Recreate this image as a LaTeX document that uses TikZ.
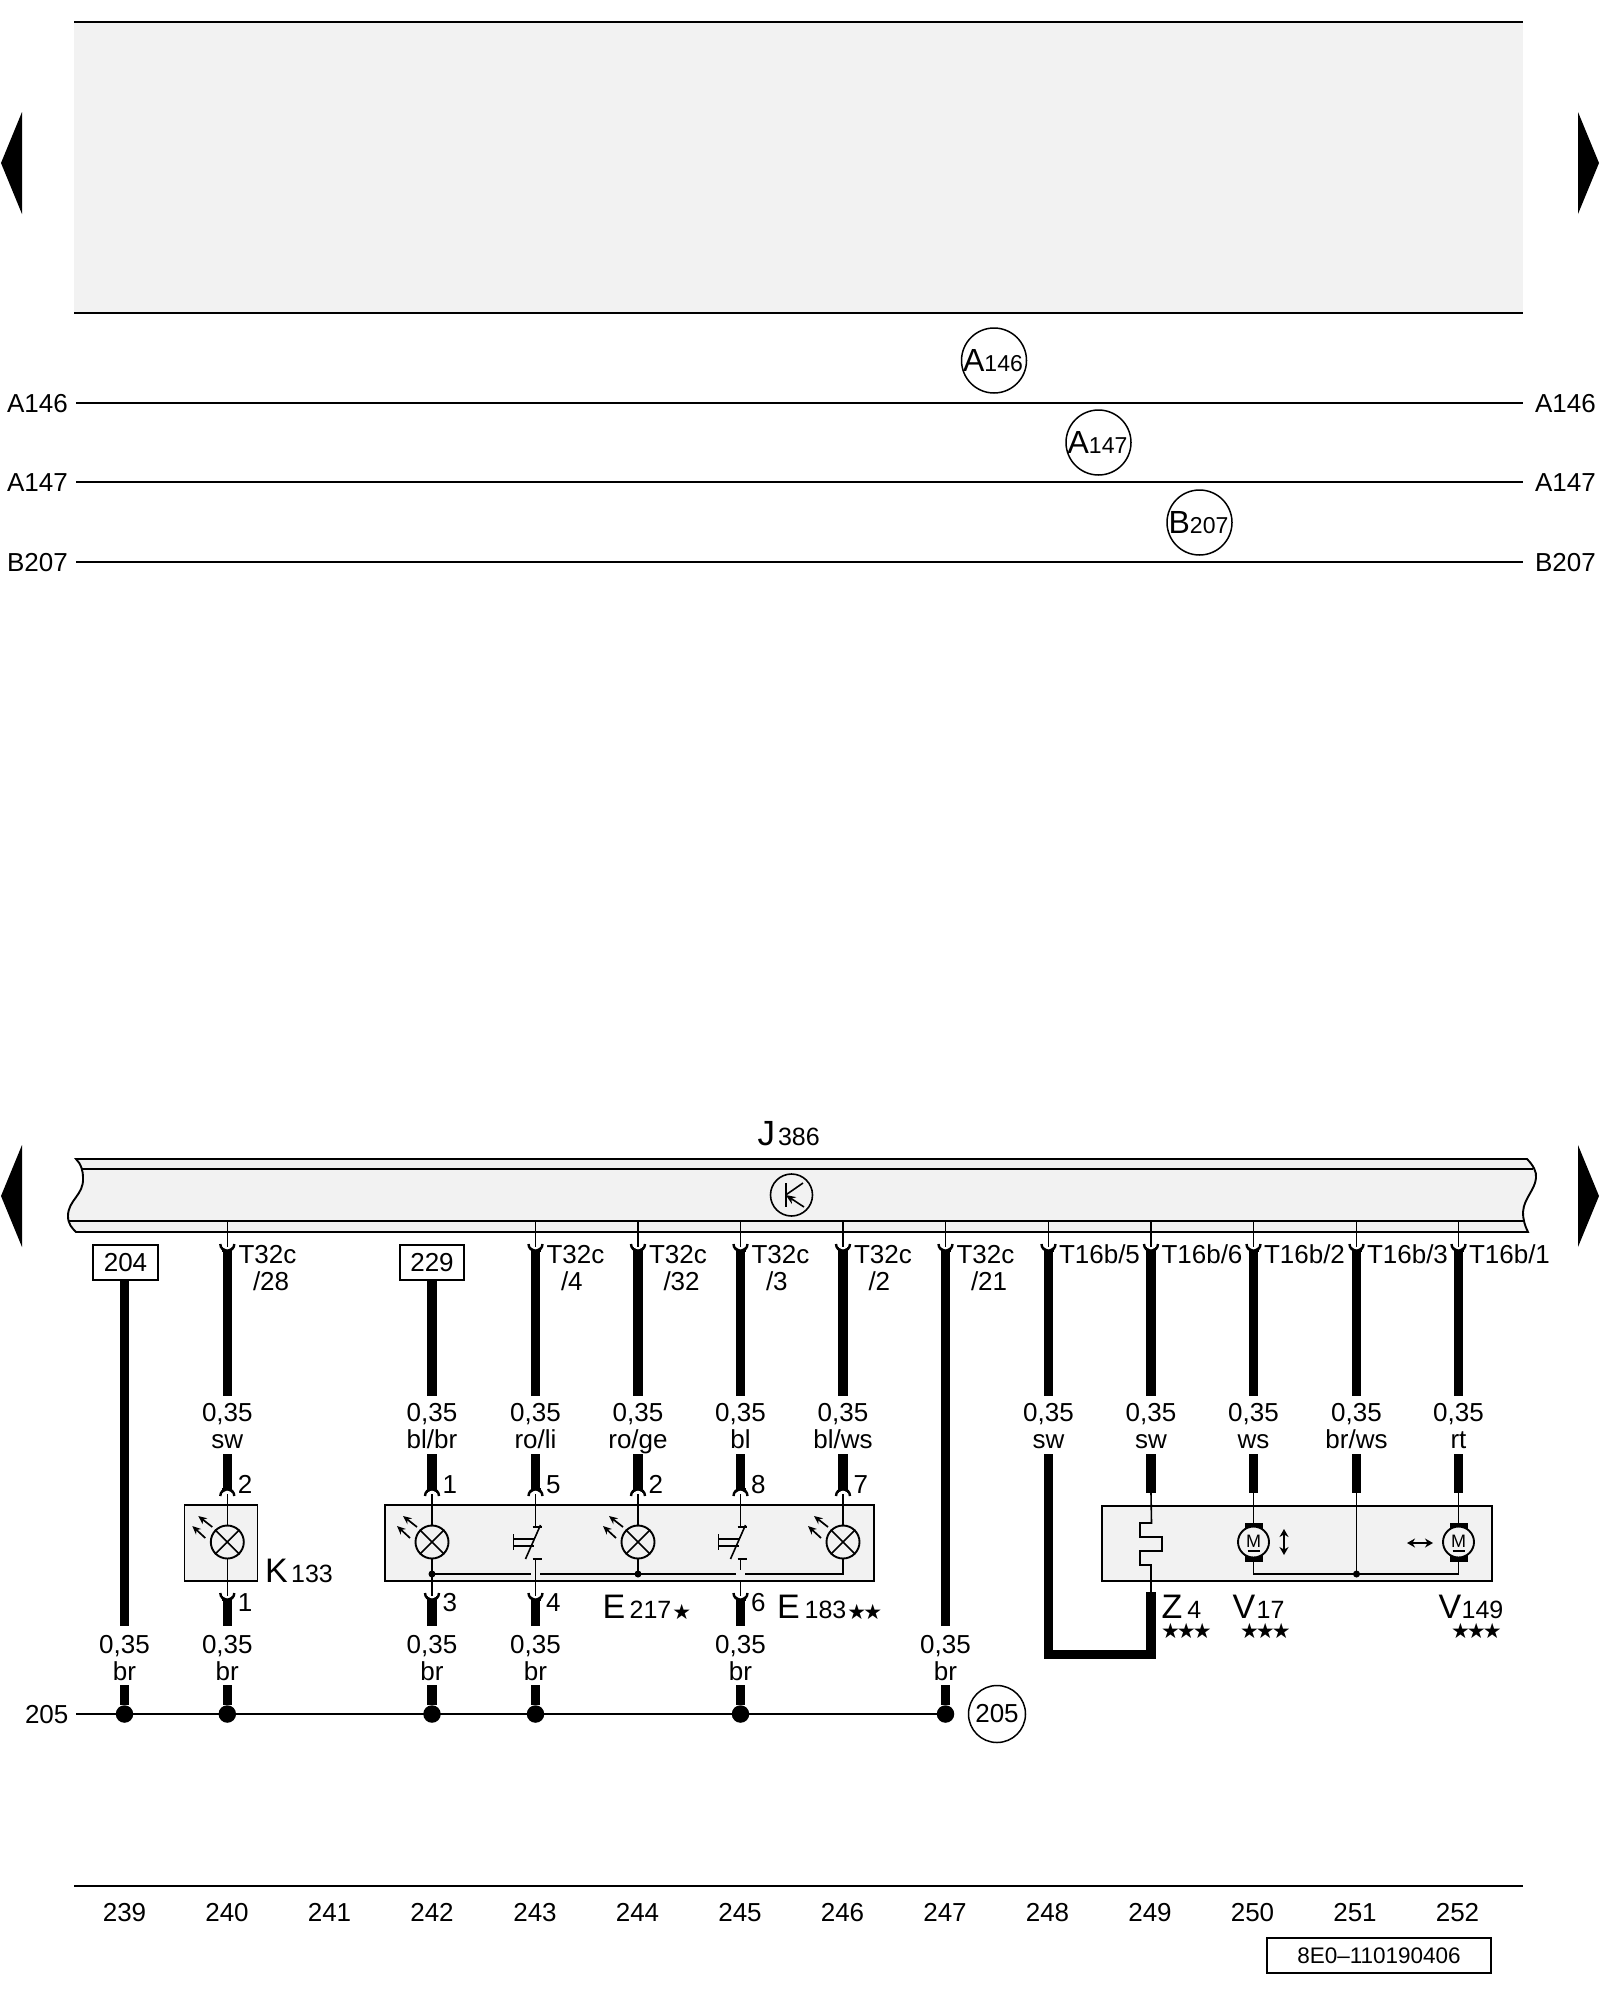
\documentclass[tikz,border=0pt]{standalone}
\usepackage{fontspec}
\setmainfont{Liberation Sans}
\newfontfamily\starfont{DejaVu Sans}
\usetikzlibrary{arrows.meta}
\definecolor{boxgray}{HTML}{F2F2F2}
\newcommand{\fs}[1]{\fontsize{#1}{#1}\selectfont}
\newcommand{\bigsub}[5]{{\fs{#1}#2}\kern#3pt{\fs{#4}#5}}
\newcommand{\stars}[1]{{\starfont\fs{21}#1}}
\newcommand{\sk}{\kern-2.9pt}
\tikzset{
  thinw/.style={line width=1.6pt,black},
  wire/.style={line width=9.5pt,black,line cap=butt},
  rail/.style={line width=1.7pt,black},
  panel/.style={draw,line width=1.9pt,black,fill=boxgray},
  txt/.style={inner sep=0pt,outer sep=0pt,anchor=base west,font=\fs{26}},
  ctxt/.style={inner sep=0pt,outer sep=0pt,anchor=base,font=\fs{26}},
  refcircle/.style={circle,draw,line width=1.5pt,minimum size=65pt,inner sep=0pt,fill=white,font=\fs{26}},
  lampsym/.style={circle,draw,line width=1.9pt,fill=boxgray,minimum size=33pt,inner sep=0pt},
  motorsym/.style={circle,draw,line width=1.9pt,fill=boxgray,minimum size=31pt,inner sep=0pt},
  ray/.style={line width=1.7pt,-{Stealth[length=8.5pt,width=7.5pt]}},
  dbl/.style={line width=1.6pt,{Stealth[length=8pt,width=9pt]}-{Stealth[length=8pt,width=9pt]}},
  solder/.style={circle,fill=black,inner sep=0pt,minimum size=#1},
  tagbox/.style={draw,line width=1.9pt,fill=white,inner sep=0pt,font=\fs{26}}
}
% connector cups: horns up (wire below) and horns down (wire above)
\newcommand{\cupdn}[2]{%
  \fill[black] (#1-5,#2+2) -- (#1+5,#2+2) -- (#1+5,#2+7) -- (#1-5,#2+7) -- cycle;
  \fill[white] (#1,#2-1) circle (5.5pt);
  \draw[line width=2.4pt] (#1-7,#2-1) arc[start angle=180,end angle=360,radius=7pt];}
\newcommand{\cupup}[2]{%
  \fill[black] (#1-5,#2-2) -- (#1+5,#2-2) -- (#1+5,#2-7) -- (#1-5,#2-7) -- cycle;
  \fill[white] (#1,#2+1) circle (5.5pt);
  \draw[line width=2.4pt] (#1-7,#2+1) arc[start angle=180,end angle=0,radius=7pt];}
\newcommand{\lamp}[2]{%
  \node[lampsym] (#1) at (#2,1542) {};
  \draw[thinw] (#1.45) -- (#1.225) (#1.135) -- (#1.315);
  \coordinate (#1r1) at (#2-15,1527); \coordinate (#1t1) at (#2-29,1516);
  \coordinate (#1r2) at (#2-22,1538); \coordinate (#1t2) at (#2-35,1526);
  \draw[ray] (#1r1) -- (#1t1);
  \draw[ray] (#1r2) -- (#1t2);}
\newcommand{\switchsym}[1]{%
  \draw[thinw] (#1-3,1527) -- (#1+6,1527);
  \draw[thinw] (#1+5,1525) -- (#1-10,1559);
  \draw[thinw] (#1-3,1559) -- (#1+6,1559);
  \draw[thinw] (#1-2,1539) -- (#1-22,1539) (#1-2,1546) -- (#1-22,1546);
  \draw[thinw] (#1-22,1534) -- (#1-22,1550);}
\newcommand{\motor}[2]{%
  \fill[black] (#2-9,1523) rectangle (#2+9,1532);
  \fill[black] (#2-9,1553) rectangle (#2+9,1562);
  \node[motorsym] (#1) at (#2,1542) {};
  \node[inner sep=0pt,font=\fs{18}] (#1m) at (#2,1541) {M};
  \draw[line width=1.4pt] (#2-6,1551) -- (#2+6,1551);}
\newcommand{\gauge}[4]{% name, x, baseline of first line, colour
  \node[ctxt] (#1a) at (#2,#3) {0,35};
  \node[ctxt] (#1b) at (#2,#3+26.5) {#4};}
\begin{document}
\begin{tikzpicture}[x=1pt,y=-1pt]
\useasboundingbox (0,0) rectangle (1600,2000);
\fill[white] (0,0) rectangle (1600,2000);

% page arrows
\fill[black] (22,112) -- (1,163) -- (22,214) -- cycle;
\fill[black] (1578,112) -- (1599,163) -- (1578,214) -- cycle;
\fill[black] (22,1145) -- (1,1196) -- (22,1247) -- cycle;
\fill[black] (1578,1145) -- (1599,1196) -- (1578,1247) -- cycle;

% top panel
\fill[boxgray] (74,22) rectangle (1523,313);
\coordinate (pl1) at (74,22); \coordinate (pr1) at (1523,22);
\coordinate (pl2) at (74,313); \coordinate (pr2) at (1523,313);
\draw[rail] (pl1) -- (pr1);
\draw[rail] (pl2) -- (pr2);

% potential lines
\foreach \t/\y in {A146/403,A147/482,B207/562}{
  \node[txt] (ll\t) at (7,\y+9) {\t};
  \node[txt] (lr\t) at (1535,\y+9) {\t};
  \coordinate (ra\t) at (76,\y);
  \coordinate (rb\t) at (1523,\y);
  \draw[rail] (ra\t) -- (rb\t);
}
\node[refcircle] (cA146) at (994,360.5) {\kern-2pt\bigsub{32}{A}{0}{23}{146}};
\node[refcircle] (cA147) at (1098.5,442.5) {\kern-2pt\bigsub{32}{A}{0}{23}{147}};
\node[refcircle] (cB207) at (1199.5,522.5) {\kern-2pt\bigsub{32}{B}{0}{23}{207}};

% J386 bar
\node[txt,anchor=base west] (J386) at (757.5,1145) {\bigsub{35}{J}{3}{25}{386}};
\path[panel] (76,1159) -- (1527,1159)
  .. controls (1533,1165) and (1537,1172) .. (1536,1178)
  .. controls (1535,1190) and (1524,1198) .. (1523,1212)
  .. controls (1523,1220) and (1525,1226) .. (1528,1232)
  -- (76,1232)
  .. controls (72,1228) and (68,1224) .. (68,1216)
  .. controls (68,1200) and (84,1195) .. (83,1178)
  .. controls (83,1170) and (81,1164) .. (76,1159) -- cycle;
\coordinate (i1l) at (82,1169); \coordinate (i1r) at (1533,1169);
\coordinate (i2l) at (68,1221); \coordinate (i2r) at (1524,1221);
\draw[rail] (i1l) -- (i1r);
\draw[rail] (i2l) -- (i2r);
\node[circle,draw,line width=1.6pt,minimum size=42pt,inner sep=0pt,fill=boxgray] (tr) at (791.5,1195) {};
\coordinate (trb1) at (785.7,1183); \coordinate (trb2) at (785.7,1207);
\coordinate (trm) at (785.7,1195); \coordinate (tru) at (803,1183); \coordinate (trd) at (804,1207);
\draw[thinw] (trb1) -- (trb2);
\draw[thinw] (trm) -- (tru);
\draw[line width=1.6pt,-{Stealth[length=10pt,width=8pt]}] (trd) -- (trm);

% numbered tag boxes
\node[tagbox,minimum width=65pt,minimum height=35pt] (b204) at (125.5,1262.5) {204};
\node[tagbox,minimum width=64pt,minimum height=35pt] (b229) at (432,1262.5) {229};

% device boxes
\fill[boxgray] (184.5,1505) rectangle (257.5,1581);
\draw[line width=1.9pt] (184.5,1505) rectangle (257.5,1581);
\fill[boxgray] (385,1505) rectangle (874,1581);
\draw[line width=1.9pt] (385,1505) rectangle (874,1581);
\fill[boxgray] (1102,1506) rectangle (1492,1581);
\draw[line width=1.9pt] (1102,1506) rectangle (1492,1581);

% connectors from J386
\foreach \n/\x in {c240/227.3,c243/535.5,c244/638,c245/740.5,c246/843,c247/945.5,c248/1048.5,c249/1151,c250/1253.5,c251/1356.5,c252/1458.5}{
  \cupdn{\x}{1245}
  \coordinate (\n top) at (\x,1221);
  \coordinate (\n cup) at (\x,1247);
  \draw[thinw] (\n top) -- (\n cup);
}
% upper thick wires
\foreach \n/\x in {c240/227.3,c243/535.5,c244/638,c245/740.5,c246/843,c248/1048.5,c249/1151,c250/1253.5,c251/1356.5,c252/1458.5}{
  \coordinate (\n a) at (\x,1251);
  \coordinate (\n b) at (\x,1396);
  \draw[wire] (\n a) -- (\n b);
}
\coordinate (c247a) at (945.5,1251); \coordinate (c247b) at (945.5,1626);
\draw[wire] (c247a) -- (c247b);
\coordinate (c239b) at (124.5,1626); \draw[wire] (b204.south -| c239b) -- (c239b);
\coordinate (c242b) at (432,1396); \draw[wire] (b229.south) -- (c242b);

% pin labels
\node[txt] (t240) at (238.5,1263) {T32c};  \node[txt] (p240) at (253,1290) {/28};
\node[txt] (t243) at (546.5,1263) {T32c};  \node[txt] (p243) at (561,1290) {/4};
\node[txt] (t244) at (649,1263) {T32c};    \node[txt] (p244) at (663.5,1290) {/32};
\node[txt] (t245) at (751.5,1263) {T32c};  \node[txt] (p245) at (766,1290) {/3};
\node[txt] (t246) at (854,1263) {T32c};    \node[txt] (p246) at (868.5,1290) {/2};
\node[txt] (t247) at (956.5,1263) {T32c};  \node[txt] (p247) at (971,1290) {/21};
\node[txt] (t248) at (1059,1263) {T16b/5};
\node[txt] (t249) at (1161.5,1263) {T16b/6};
\node[txt] (t250) at (1264,1263) {T16b/2};
\node[txt] (t251) at (1367,1263) {T16b/3};
\node[txt] (t252) at (1469,1263) {T16b/1};

% upper gauges
\gauge{g240}{227.3}{1421.5}{sw}
\gauge{g242}{432}{1421.5}{bl/br}
\gauge{g243}{535.5}{1421.5}{ro/li}
\gauge{g244}{638}{1421.5}{ro/ge}
\gauge{g245}{740.5}{1421.5}{bl}
\gauge{g246}{843}{1421.5}{bl/ws}
\gauge{g248}{1048.5}{1421.5}{sw}
\gauge{g249}{1151}{1421.5}{sw}
\gauge{g250}{1253.5}{1421.5}{ws}
\gauge{g251}{1356.5}{1421.5}{br/ws}
\gauge{g252}{1458.5}{1421.5}{rt}

% lower segments of upper wires, device pins
\foreach \n/\x/\p in {c240/227.3/2,c242/432/1,c243/535.5/5,c244/638/2,c245/740.5/8,c246/843/7}{
  \coordinate (\n c) at (\x,1454);
  \coordinate (\n d) at (\x,1489);
  \draw[wire] (\n c) -- (\n d);
  \cupup{\x}{1495}
  \node[txt] (pin\n) at (\x+10.5,1493) {\p};
}
\foreach \n/\x in {c249/1151,c250/1253.5,c251/1356.5,c252/1458.5}{
  \coordinate (\n c) at (\x,1454);
  \coordinate (\n d) at (\x,1493);
  \draw[wire] (\n c) -- (\n d);
}
\coordinate (c248c) at (1048.5,1454); \coordinate (c248d) at (1048.5,1654.5);
\coordinate (c249e) at (1151,1592); \coordinate (c249f) at (1151,1654.5);
\draw[line width=9.5pt,line join=miter] (c248c) -- (c248d) -- (c249f) -- (c249e);

% lower pins
\foreach \n/\x/\p in {c240/227.3/1,c242/432/3,c243/535.5/4,c245/740.5/6}{
  \cupdn{\x}{1594}
  \coordinate (\n g) at (\x,1600);
  \coordinate (\n h) at (\x,1626);
  \draw[wire] (\n g) -- (\n h);
  \node[txt] (low\n) at (\x+10.5,1611) {\p};
}

% lamps and switches
\coordinate (k1) at (227.3,1494); \coordinate (k2) at (227.3,1596);
\coordinate (e1) at (432,1494); \coordinate (e2) at (432,1596);
\coordinate (f1) at (535.5,1494); \coordinate (f2) at (535.5,1527); \coordinate (f3) at (535.5,1559); \coordinate (f4) at (535.5,1596);
\coordinate (h1) at (638,1494); \coordinate (h2) at (638,1574);
\coordinate (s1) at (740.5,1494); \coordinate (s2) at (740.5,1527); \coordinate (s3) at (740.5,1559); \coordinate (s4) at (740.5,1570); \coordinate (s5) at (740.5,1580); \coordinate (s6) at (740.5,1596);
\coordinate (m1) at (843,1494); \coordinate (m2) at (843,1574);
\draw[thinw] (k1) -- (k2);
\draw[thinw] (e1) -- (e2);
\draw[thinw] (f1) -- (f2) (f3) -- (f4);
\draw[thinw] (h1) -- (h2);
\draw[thinw] (s1) -- (s2) (s3) -- (s4) (s5) -- (s6);
\coordinate (gl) at (432,1574);
\coordinate (gg1) at (531,1574); \coordinate (gg2) at (540,1574);
\coordinate (gg3) at (736,1574); \coordinate (gg4) at (745,1574);
\draw[thinw] (gl) -- (gg1) (gg2) -- (gg3);
\draw[thinw] (gg4) -- (m2) -- (m1);
\lamp{lk}{227.3}
\lamp{le1}{432}
\lamp{le2}{638}
\lamp{le3}{843}
\switchsym{535.5}
\switchsym{740.5}
\node[solder=7pt] (d1) at (gl) {};
\node[solder=7pt] (d2) at (h2) {};

% heater
\coordinate (z1) at (1151,1493);
\draw[thinw] (z1) -- (1151.5,1523) -- (1140,1523) -- (1140,1537) -- (1162,1537) -- (1162,1551) -- (1140,1551) -- (1140,1565) -- (1151,1565) -- (c249e);

% motors
\coordinate (a1) at (1253.5,1493); \coordinate (a2) at (1253.5,1574);
\coordinate (a3) at (1458.5,1493); \coordinate (a4) at (1458.5,1574);
\coordinate (a5) at (1356.5,1493); \coordinate (a6) at (1356.5,1574);
\draw[thinw] (a1) -- (a2) -- (a4) -- (a3);
\draw[thinw] (a5) -- (a6);
\node[solder=7pt] (d3) at (a6) {};
\motor{mv}{1253.5}
\motor{mh}{1458.5}
\coordinate (v1) at (1284,1529); \coordinate (v2) at (1284,1555);
\coordinate (w1) at (1407,1543); \coordinate (w2) at (1433,1543);
\draw[dbl] (v1) -- (v2);
\draw[dbl] (w1) -- (w2);

% device labels
\node[txt] (K133) at (265,1582) {\bigsub{34}{K}{3.5}{25}{133}};
\node[txt] (E217) at (602.5,1618) {\bigsub{34}{E}{4.5}{25}{217}\kern1pt\raisebox{-1pt}{\stars{★}}};
\node[txt] (E183) at (777,1618) {\bigsub{34}{E}{5}{25}{183}\kern1pt\raisebox{-1pt}{\stars{★\sk★}}};
\node[txt] (Z4) at (1161.5,1618) {\bigsub{34}{Z}{5}{25}{4}};
\node[txt] (V17) at (1232.5,1618) {\bigsub{34}{V}{1.5}{25}{17}};
\node[txt] (V149) at (1438.5,1618) {\bigsub{34}{V}{0.5}{25}{149}};
\node[txt] (s4s) at (1161,1638) {\stars{★\sk★\sk★}};
\node[txt] (s17) at (1240,1638) {\stars{★\sk★\sk★}};
\node[txt] (s149) at (1451,1638) {\stars{★\sk★\sk★}};

% lower gauges
\gauge{l239}{124.5}{1653.5}{br}
\gauge{l240}{227.3}{1653.5}{br}
\gauge{l242}{432}{1653.5}{br}
\gauge{l243}{535.5}{1653.5}{br}
\gauge{l245}{740.5}{1653.5}{br}
\gauge{l247}{945.5}{1653.5}{br}

% bus 205
\node[txt] (n205) at (25,1723) {205};
\coordinate (busl) at (76,1714);
\node[refcircle,minimum size=57pt] (c205) at (997,1714) {205};
\coordinate (busr) at (945.5,1714);
\draw[rail] (busl) -- (busr);
\foreach \n/\x in {b239/124.5,b240/227.3,b242/432,b243/535.5,b245/740.5,b247/945.5}{
  \coordinate (\n t) at (\x,1685);
  \node[solder=17.5pt] (\n) at (\x,1714) {};
  \draw[wire] (\n t) -- (\n);
}

% footer
\coordinate (fl) at (74,1886); \coordinate (fr) at (1523,1886);
\draw[rail] (fl) -- (fr);
\foreach \n/\x in {239/124.5,240/227,241/329.5,242/432,243/535,244/637.5,245/740,246/842.5,247/945,248/1047.5,249/1150,250/1252.5,251/1355,252/1457.5}{
  \node[ctxt] (num\n) at (\x,1921) {\n};
}
\node[draw,line width=1.9pt,minimum width=224pt,minimum height=35pt,inner sep=0pt,font=\fs{22.5}] (docno) at (1379,1955.5) {8E0–110190406};
\end{tikzpicture}
\end{document}
